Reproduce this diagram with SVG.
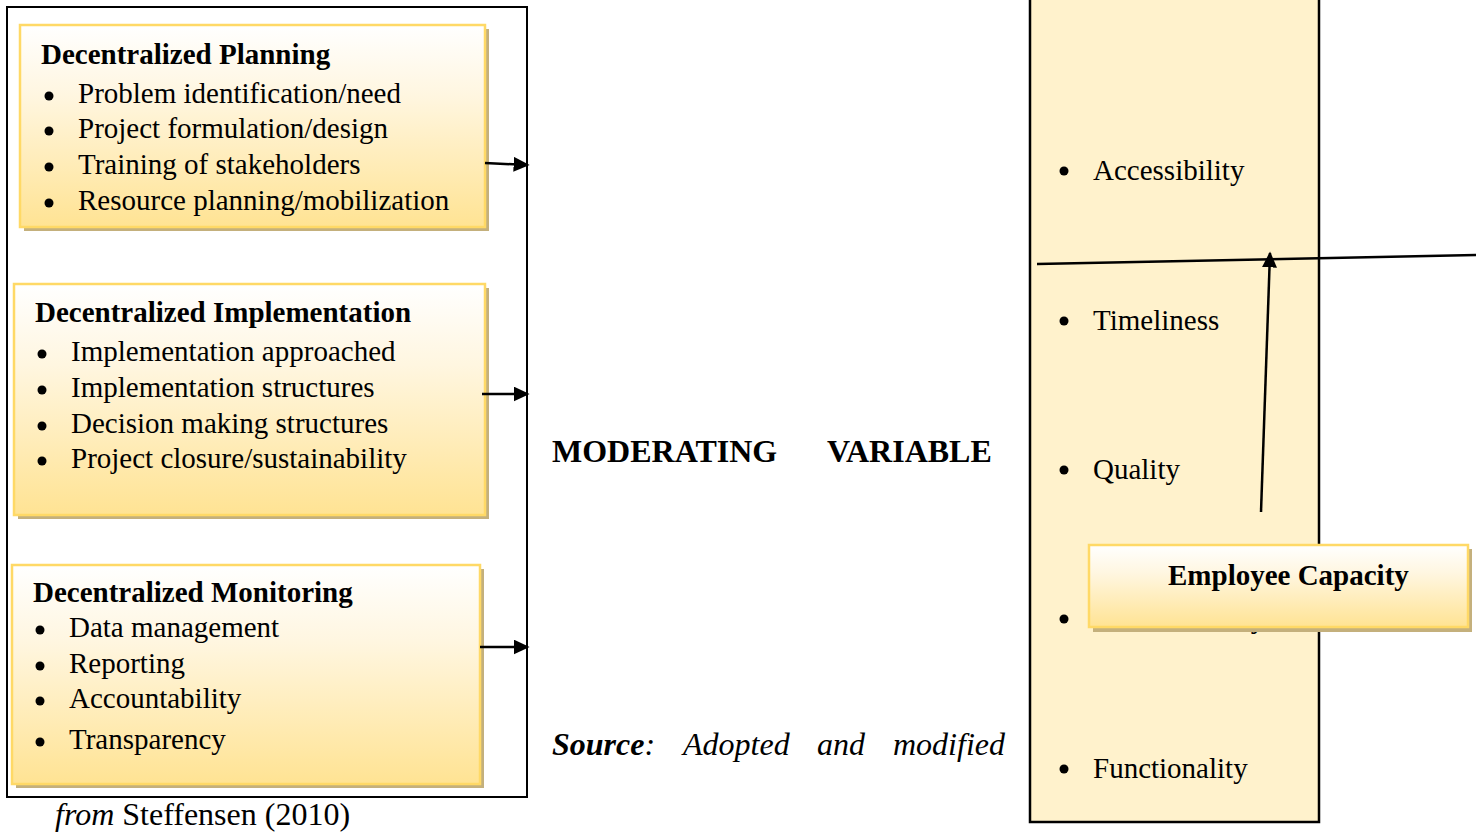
<svg xmlns="http://www.w3.org/2000/svg" width="1476" height="832" viewBox="0 0 1476 832">
<defs>
<linearGradient id="gold" x1="0" y1="0" x2="0" y2="1">
<stop offset="0" stop-color="#ffffff"/>
<stop offset="0.35" stop-color="#fff6e0"/>
<stop offset="1" stop-color="#ffe393"/>
</linearGradient>
<marker id="ah" viewBox="0 0 10 10" refX="9" refY="5" markerWidth="16" markerHeight="15" markerUnits="userSpaceOnUse" orient="auto" preserveAspectRatio="none">
<path d="M0,0 L10,5 L0,10 z" fill="#000"/>
</marker>
<style>
.t{font-family:"Liberation Serif","Times New Roman",serif;font-size:29px;fill:#000}
.b{font-weight:bold}
.big{font-family:"Liberation Serif","Times New Roman",serif;font-size:32px;fill:#000}
.box{fill:url(#gold);stroke:#ffd966;stroke-width:2.5}
.sh{fill:#c4b07c}
.dot{fill:#000}
.ln{stroke:#000;stroke-width:2.5;fill:none}
</style>
</defs>
<rect width="1476" height="832" fill="#fff"/>
<g id="outer-frame">
<rect x="7" y="7" width="520" height="790" fill="none" stroke="#000" stroke-width="2"/>
</g>
<g id="dependent-box">
<rect x="1030" y="-2" width="289" height="824" fill="#fff2cc" stroke="#000" stroke-width="2.5"/>
<circle class="dot" cx="1064" cy="171" r="4.5"/>
<text class="t" x="1093" y="180">Accessibility</text>
<circle class="dot" cx="1064" cy="321" r="4.5"/>
<text class="t" x="1093" y="330">Timeliness</text>
<circle class="dot" cx="1064" cy="470" r="4.5"/>
<text class="t" x="1093" y="479">Quality</text>
<circle class="dot" cx="1064" cy="619" r="4.5"/>
<text class="t" x="1093" y="628">Accountability</text>
<circle class="dot" cx="1064" cy="769" r="4.5"/>
<text class="t" x="1093" y="778">Functionality</text>
</g>
<g id="planning">
<rect class="sh" x="24" y="29" width="465" height="202"/>
<rect class="box" x="20" y="25" width="465" height="202"/>
<text class="t b" x="41" y="64">Decentralized Planning</text>
<circle class="dot" cx="49" cy="96" r="4.5"/>
<text class="t" x="78" y="103">Problem identification/need</text>
<circle class="dot" cx="49" cy="131" r="4.5"/>
<text class="t" x="78" y="138">Project formulation/design</text>
<circle class="dot" cx="49" cy="167" r="4.5"/>
<text class="t" x="78" y="174">Training of stakeholders</text>
<circle class="dot" cx="49" cy="203" r="4.5"/>
<text class="t" x="78" y="210">Resource planning/mobilization</text>
</g>
<g id="implementation">
<rect class="sh" x="18" y="288" width="471" height="231"/>
<rect class="box" x="14" y="284" width="471" height="231"/>
<text class="t b" x="35" y="322">Decentralized Implementation</text>
<circle class="dot" cx="42" cy="354" r="4.5"/>
<text class="t" x="71" y="361">Implementation approached</text>
<circle class="dot" cx="42" cy="390" r="4.5"/>
<text class="t" x="71" y="397">Implementation structures</text>
<circle class="dot" cx="42" cy="426" r="4.5"/>
<text class="t" x="71" y="433">Decision making structures</text>
<circle class="dot" cx="42" cy="461" r="4.5"/>
<text class="t" x="71" y="468">Project closure/sustainability</text>
</g>
<g id="monitoring">
<rect class="sh" x="16" y="569" width="468" height="219"/>
<rect class="box" x="12" y="565" width="468" height="219"/>
<text class="t b" x="33" y="602">Decentralized Monitoring</text>
<circle class="dot" cx="40" cy="630" r="4.5"/>
<text class="t" x="69" y="637">Data management</text>
<circle class="dot" cx="40" cy="666" r="4.5"/>
<text class="t" x="69" y="673">Reporting</text>
<circle class="dot" cx="40" cy="701" r="4.5"/>
<text class="t" x="69" y="708">Accountability</text>
<circle class="dot" cx="40" cy="742" r="4.5"/>
<text class="t" x="69" y="749">Transparency</text>
</g>
<g id="employee-capacity">
<rect class="sh" x="1093" y="549" width="379" height="83"/>
<rect class="box" x="1089" y="545" width="379" height="82"/>
<text class="t b" x="1168" y="585">Employee Capacity</text>
</g>
<g id="connectors">
<line class="ln" x1="485" y1="163" x2="528" y2="165" marker-end="url(#ah)"/>
<line class="ln" x1="482" y1="394" x2="528" y2="394" marker-end="url(#ah)"/>
<line class="ln" x1="480" y1="647" x2="528" y2="647" marker-end="url(#ah)"/>
<line class="ln" x1="1037" y1="264" x2="1476" y2="255"/>
<line class="ln" x1="1261" y1="512" x2="1270" y2="253" marker-end="url(#ah)"/>
</g>
<g id="labels">
<text class="big b" x="552" y="462">MODERATING</text>
<text class="big b" x="827" y="462">VARIABLE</text>
<text class="big" x="552" y="755"><tspan font-weight="bold" font-style="italic">Source</tspan><tspan font-style="italic">:</tspan></text>
<text class="big" x="683" y="755" font-style="italic">Adopted</text>
<text class="big" x="817" y="755" font-style="italic">and</text>
<text class="big" x="893" y="755" font-style="italic">modified</text>
<text class="big" x="55" y="825"><tspan font-style="italic">from</tspan> Steffensen (2010)</text>
</g>
</svg>
